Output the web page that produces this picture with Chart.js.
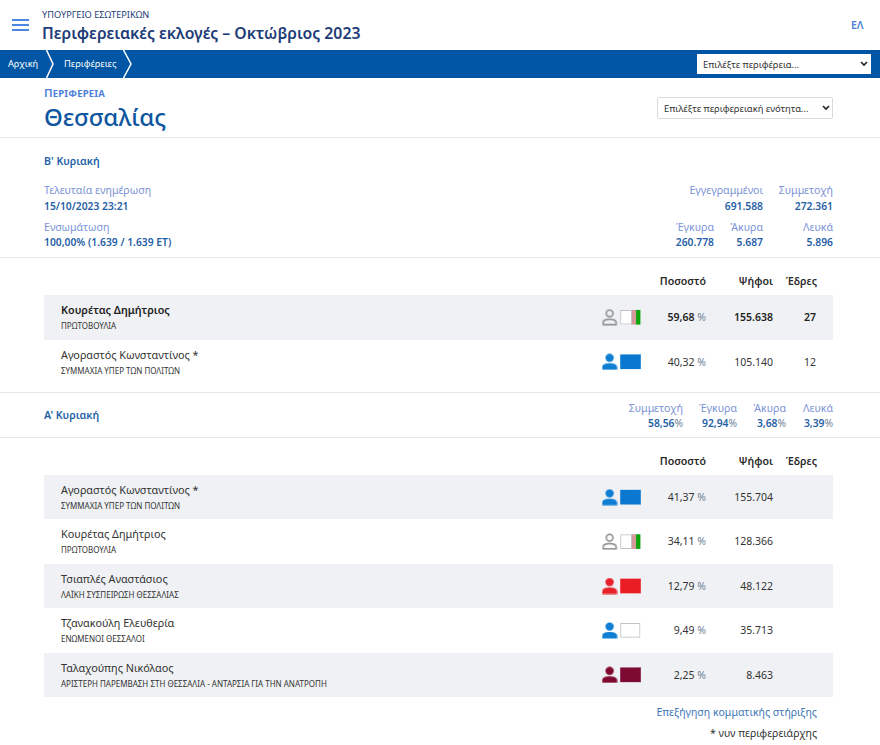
<!DOCTYPE html>
<html lang="el">
<head>
  <meta charset="UTF-8">
  <title>Περιφερειακές εκλογές – Οκτώβριος 2023</title>
  <script src="https://cdn.jsdelivr.net/npm/chart.js"></script>
  <style>
    html, body { margin: 0; padding: 0; background: #fff; }
    body { width: 880px; height: 745px; position: relative; overflow: hidden; font-family: "Noto Sans", sans-serif; color: #2a2a2a; }
    .t { position: absolute; white-space: nowrap; line-height: 14px; transform: translateY(-7px); }
    .r { transform: translate(-100%, -7px); }
    .lbl { font-size: 10.6px; color: #7b93d6; }
    .val { font-size: 10.3px; font-weight: 600; color: #1f60a6; }
    .val small, .pct small { font-size: inherit; font-weight: 400; color: #6f7f95; }
    .hd { font-size: 10.6px; font-weight: 600; color: #2a2a2a; }
    .round { font-size: 10.6px; font-weight: 600; color: #1c5fa8; }
    .hr { position: absolute; left: 0; width: 880px; height: 1px; background: #e6e6e6; }
    #nav { position: absolute; left: 0; top: 50px; width: 880px; height: 28px; background: #0056a4; }
    .sel { position: absolute; background: #fff; box-sizing: border-box; font-size: 9.4px; color: #333; }
    .sel span { position: absolute; top: 50%; transform: translateY(-50%); white-space: nowrap; }
    .sel svg { position: absolute; top: 50%; margin-top: -3px; }
    .rows { position: absolute; left: 44px; width: 789px; }
    .row { position: relative; }
    .row:nth-child(odd) { background: #eff1f4; }
    .row .name { position: absolute; left: 17px; top: 7px; font-size: 10.8px; line-height: 16px; white-space: nowrap; color: #333; }
    .row .party { position: absolute; left: 17px; top: 24px; font-size: 8px; line-height: 14px; white-space: nowrap; color: #333; }
    .row .pct, .row .votes, .row .seats { position: absolute; top: 14px; font-size: 10.5px; line-height: 16px; white-space: nowrap; color: #333; transform: translateX(-100%); }
    .row.first .name, .row.first .pct, .row.first .votes, .row.first .seats { font-weight: 600; color: #222; }
    .row.first .pct small { font-weight: 400; }
    canvas { position: absolute; left: 556px; top: 0; }
  </style>
</head>
<body>
  <svg style="position:absolute;left:12px;top:19px" width="17" height="12"><path d="M0 1h17M0 6h17M0 11h17" stroke="#4d87e0" stroke-width="2"/></svg>
  <div class="t" style="left:42px;top:15px;font-size:9.2px;color:#1d3c78">ΥΠΟΥΡΓΕΙΟ ΕΣΩΤΕΡΙΚΩΝ</div>
  <div class="t" style="left:42px;top:33px;font-size:15.8px;line-height:20px;transform:translateY(-10px);font-weight:600;color:#1d3c78">Περιφερειακές εκλογές – Οκτώβριος 2023</div>
  <div class="t" style="left:851px;top:25px;font-size:10.5px;font-weight:600;color:#4d7fd8">ΕΛ</div>

  <div id="nav">
    <svg style="position:absolute;left:0;top:0" width="140" height="28"><path d="M46.5 0L53 14L46.5 28M123.5 0L131 14L123.5 28" fill="none" stroke="#fff" stroke-width="1.5"/></svg>
    <div class="t" style="left:8px;top:14px;font-size:9.2px;color:#fff">Αρχική</div>
    <div class="t" style="left:64px;top:14px;font-size:9.3px;color:#fff">Περιφέρειες</div>
    <div class="sel" style="left:697px;top:4px;width:174px;height:20px"><span style="left:6px">Επιλέξτε περιφέρεια...</span>
      <svg style="left:163px" width="8" height="6"><path d="M1 1l3 3l3-3" fill="none" stroke="#222" stroke-width="1.6"/></svg></div>
  </div>

  <div class="t" style="left:44px;top:93px;font-size:11.5px;line-height:12px;letter-spacing:.2px;transform:translateY(-6px);font-weight:600;font-variant:small-caps;color:#4d7fd8">Περιφέρεια</div>
  <div class="t" style="left:44px;top:117px;font-size:24px;line-height:26px;transform:translateY(-13px);font-weight:500;color:#0f56a0">Θεσσαλίας</div>
  <div class="sel" style="left:657px;top:97px;width:176px;height:22px;border:1px solid #d8dce1;border-radius:2px"><span style="left:6px">Επιλέξτε περιφερειακή ενότητα...</span>
    <svg style="left:164px" width="8" height="6"><path d="M1 1l3 3l3-3" fill="none" stroke="#222" stroke-width="1.6"/></svg></div>
  <div class="hr" style="top:137px"></div>

  <div class="t round" style="left:44px;top:161px">Β' Κυριακή</div>
  <div class="t lbl" style="left:44px;top:190px">Τελευταία ενημέρωση</div>
  <div class="t val" style="left:44px;top:206px">15/10/2023 23:21</div>
  <div class="t lbl" style="left:44px;top:227px">Ενσωμάτωση</div>
  <div class="t val" style="left:44px;top:242px">100,00% (1.639 / 1.639 ΕΤ)</div>
  <div class="t lbl r" style="left:763px;top:190px">Εγγεγραμμένοι</div>
  <div class="t val r" style="left:763px;top:206px">691.588</div>
  <div class="t lbl r" style="left:833px;top:190px">Συμμετοχή</div>
  <div class="t val r" style="left:833px;top:206px">272.361</div>
  <div class="t lbl r" style="left:714px;top:227px">Έγκυρα</div>
  <div class="t val r" style="left:714px;top:242px">260.778</div>
  <div class="t lbl r" style="left:763px;top:227px">Άκυρα</div>
  <div class="t val r" style="left:763px;top:242px">5.687</div>
  <div class="t lbl r" style="left:833px;top:227px">Λευκά</div>
  <div class="t val r" style="left:833px;top:242px">5.896</div>
  <div class="hr" style="top:257px"></div>

  <div class="t hd r" style="left:706px;top:281px">Ποσοστό</div>
  <div class="t hd r" style="left:773px;top:281px">Ψήφοι</div>
  <div class="t hd r" style="left:817px;top:281px">Έδρες</div>
  <div class="rows" id="rows2" style="top:295px"></div>
  <div class="hr" style="top:392px"></div>

  <div class="t round" style="left:44px;top:415px">Α' Κυριακή</div>
  <div class="t lbl r" style="left:683px;top:408px">Συμμετοχή</div>
  <div class="t val r" style="left:683px;top:423px">58,56<small>%</small></div>
  <div class="t lbl r" style="left:737px;top:408px">Έγκυρα</div>
  <div class="t val r" style="left:737px;top:423px">92,94<small>%</small></div>
  <div class="t lbl r" style="left:786px;top:408px">Άκυρα</div>
  <div class="t val r" style="left:786px;top:423px">3,68<small>%</small></div>
  <div class="t lbl r" style="left:833px;top:408px">Λευκά</div>
  <div class="t val r" style="left:833px;top:423px">3,39<small>%</small></div>
  <div class="hr" style="top:437px"></div>

  <div class="t hd r" style="left:706px;top:461px">Ποσοστό</div>
  <div class="t hd r" style="left:773px;top:461px">Ψήφοι</div>
  <div class="t hd r" style="left:817px;top:461px">Έδρες</div>
  <div class="rows" id="rows1" style="top:475px"></div>

  <div class="t r" style="left:817px;top:712px;font-size:10.5px;color:#3e76b8">Επεξήγηση κομματικής στήριξης</div>
  <div class="t r" style="left:817px;top:733px;font-size:10.5px;color:#333">* νυν περιφερειάρχης</div>

  <script>
    // Β' Κυριακή
    const round2Names = ['Κουρέτας Δημήτριος', 'Αγοραστός Κωνσταντίνος *'];
    const round2Parties = ['ΠΡΩΤΟΒΟΥΛΙΑ', 'ΣΥΜΜΑΧΙΑ ΥΠΕΡ ΤΩΝ ΠΟΛΙΤΩΝ'];
    const round2Pct = [59.68, 40.32];
    const round2Votes = [155638, 105140];
    const round2Seats = [27, 12];
    // μερίδια χρωμάτων μέσα στο σήμα κάθε συνδυασμού
    const round2Share1 = [57, 100];
    const round2Share2 = [21, 0];
    const round2Share3 = [22, 0];

    // Α' Κυριακή
    const round1Names = ['Αγοραστός Κωνσταντίνος *', 'Κουρέτας Δημήτριος', 'Τσιαπλές Αναστάσιος', 'Τζανακούλη Ελευθερία', 'Ταλαχούπης Νικόλαος'];
    const round1Parties = ['ΣΥΜΜΑΧΙΑ ΥΠΕΡ ΤΩΝ ΠΟΛΙΤΩΝ', 'ΠΡΩΤΟΒΟΥΛΙΑ', 'ΛΑΪΚΗ ΣΥΣΠΕΙΡΩΣΗ ΘΕΣΣΑΛΙΑΣ', 'ΕΝΩΜΕΝΟΙ ΘΕΣΣΑΛΟΙ', 'ΑΡΙΣΤΕΡΗ ΠΑΡΕΜΒΑΣΗ ΣΤΗ ΘΕΣΣΑΛΙΑ - ΑΝΤΑΡΣΙΑ ΓΙΑ ΤΗΝ ΑΝΑΤΡΟΠΗ'];
    const round1Pct = [41.37, 34.11, 12.79, 9.49, 2.25];
    const round1Votes = [155704, 128366, 48122, 35713, 8463];
    const round1Seats = ['', '', '', '', ''];
    const round1Share1 = [100, 57, 100, 100, 100];
    const round1Share2 = [0, 21, 0, 0, 0];
    const round1Share3 = [0, 22, 0, 0, 0];

    // χρώματα ανά υποψήφιο
    const PROTOVOULIA = { icon: '#8a8a8a', outline: true, colors: ['#fff', '#d29a9a', '#0aa50a'] };
    const SYMMACHIA = { icon: '#0f7fd4', colors: ['#0a78d0', '#0a78d0', '#0a78d0'] };
    const LAIKI = { icon: '#e8202a', colors: ['#ea1c24', '#ea1c24', '#ea1c24'] };
    const ENOMENOI = { icon: '#0f7fd4', colors: ['#fff', '#fff', '#fff'] };
    const ANTARSIA = { icon: '#7f0a2e', colors: ['#7d0a30', '#7d0a30', '#7d0a30'] };

    function fmtPct(v) { return v.toFixed(2).replace('.', ','); }
    function fmtVotes(v) { return String(v).replace(/\B(?=(\d{3})+$)/g, '.'); }

    // εικονίδιο προσώπου για το pointStyle
    function personIcon(style) {
      const c = document.createElement('canvas');
      c.width = 16; c.height = 17;
      const g = c.getContext('2d');
      g.fillStyle = style.icon;
      g.strokeStyle = style.icon;
      g.lineWidth = 1.5;
      g.beginPath();
      g.arc(8, 4.6, style.outline ? 3.4 : 4.2, 0, Math.PI * 2);
      if (style.outline) g.stroke(); else g.fill();
      g.beginPath();
      if (style.outline) {
        g.moveTo(1.5, 15.8); g.lineTo(14.5, 15.8); g.lineTo(14.5, 14);
        g.quadraticCurveTo(14.5, 10.6, 8, 10.6);
        g.quadraticCurveTo(1.5, 10.6, 1.5, 14);
        g.closePath(); g.stroke();
      } else {
        g.moveTo(.5, 16.5); g.lineTo(15.5, 16.5); g.lineTo(15.5, 14);
        g.quadraticCurveTo(15.5, 10, 8, 10);
        g.quadraticCurveTo(.5, 10, .5, 14);
        g.closePath(); g.fill();
      }
      return c;
    }

    function buildTable(id, rowH, names, parties, pct, votes, seats, share1, share2, share3, styles, boldFirst) {
      const box = document.getElementById(id);
      names.forEach((n, i) => {
        const row = document.createElement('div');
        row.className = 'row' + (boldFirst && i === 0 ? ' first' : '');
        row.style.height = rowH + 'px';
        row.innerHTML = `<div class="name">${n}</div><div class="party">${parties[i]}</div>
          <div class="pct" style="left:662px">${fmtPct(pct[i])} <small>%</small></div>
          <div class="votes" style="left:729px">${fmtVotes(votes[i])}</div>
          <div class="seats" style="left:772px">${seats[i]}</div>`;
        box.appendChild(row);
      });

      const canvas = document.createElement('canvas');
      canvas.width = 44;
      canvas.height = Math.round(rowH * names.length);
      canvas.style.width = '44px';
      canvas.style.height = canvas.height + 'px';
      box.appendChild(canvas);

      const segment = (data, k) => ({
        data: data,
        stack: 'sima',
        backgroundColor: styles.map(s => s.colors[k]),
        borderColor: styles.map(s => s.colors[k] === '#fff' ? '#c2c2c2' : s.colors[k]),
        borderWidth: data.map((v, i) => v > 0 && styles[i].colors[k] === '#fff' ? 1 : 0),
        borderSkipped: false,
        barThickness: 14
      });

      new Chart(canvas, {
        type: 'bar',
        data: {
          labels: names,
          datasets: [
            segment(share1, 0), segment(share2, 1), segment(share3, 2),
            {
              type: 'line',
              data: names.map(() => -56),
              showLine: false,
              clip: false,
              pointStyle: styles.map(personIcon)
            }
          ]
        },
        options: {
          indexAxis: 'y',
          responsive: false,
          animation: false,
          layout: { padding: 0, autoPadding: false },
          plugins: { legend: { display: false }, tooltip: { enabled: false } },
          scales: {
            x: { display: false, stacked: true, min: -105, max: 120 },
            y: { display: false, stacked: true }
          }
        }
      });
    }

    buildTable('rows2', 44.5, round2Names, round2Parties, round2Pct, round2Votes, round2Seats,
      round2Share1, round2Share2, round2Share3, [PROTOVOULIA, SYMMACHIA], true);
    buildTable('rows1', 44.4, round1Names, round1Parties, round1Pct, round1Votes, round1Seats,
      round1Share1, round1Share2, round1Share3, [SYMMACHIA, PROTOVOULIA, LAIKI, ENOMENOI, ANTARSIA], false);
  </script>
</body>
</html>
